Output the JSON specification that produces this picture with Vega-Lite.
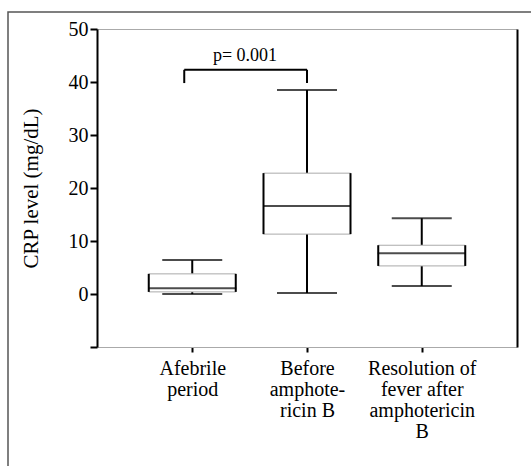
{
  "$schema": "https://vega.github.io/schema/vega-lite/v6.json",
  "width": 525,
  "height": 456,
  "autosize": {"type": "none"},
  "padding": {"left": 8, "top": 12, "right": -2, "bottom": -2},
  "background": "white",
  "config": {
    "view": {"stroke": "#555555", "strokeWidth": 1.5},
    "font": "Liberation Serif",
    "axis": {"grid": false, "labelFont": "Liberation Serif", "titleFont": "Liberation Serif", "labelColor": "black", "titleColor": "black"}
  },
  "datasets": {
    "boxes": [
      {"group": "Afebrile period", "min": 0.0, "q1": 0.4, "median": 1.1, "q3": 3.8, "max": 6.4},
      {"group": "Before amphotericin B", "min": 0.2, "q1": 11.3, "median": 16.6, "q3": 22.8, "max": 38.5},
      {"group": "Resolution of fever after amphotericin B", "min": 1.5, "q1": 5.3, "median": 7.7, "q3": 9.2, "max": 14.3}
    ],
    "bracket": [
      {"from": "Afebrile period", "to": "Before amphotericin B", "top": 42.3, "bottom": 39.8, "label": "p= 0.001", "labelY": 44.0}
    ]
  },
  "resolve": {"axis": {"x": "independent", "y": "independent"}},
  "layer": [
    {
      "data": {"name": "boxes"},
      "mark": {"type": "rule", "color": "black", "strokeWidth": 2},
      "encoding": {
        "x": {"field": "group", "type": "nominal", "sort": null,
          "scale": {"type": "point", "domain": ["Afebrile period", "Before amphotericin B", "Resolution of fever after amphotericin B"], "range": [89, 509], "padding": 0.83},
          "axis": {"orient": "bottom", "offset": -121, "title": null, "domainColor": "#aaaaaa", "domainWidth": 1, "tickColor": "black", "tickWidth": 2, "tickSize": 5, "labelAngle": 0, "labelFontSize": 20, "labelLineHeight": 21, "labelPadding": 6, "labelAlign": "center",
            "labelExpr": "datum.value == 'Afebrile period' ? ['Afebrile', 'period'] : datum.value == 'Before amphotericin B' ? ['Before', 'amphote-', 'ricin B'] : ['Resolution of', 'fever after', 'amphotericin', 'B']"}},
        "y": {"field": "min", "type": "quantitative",
          "scale": {"domain": [-10, 50], "range": [335, 17], "nice": false, "zero": false},
          "axis": {"orient": "left", "offset": -89, "title": "CRP level (mg/dL)", "titleFontSize": 21, "titleFontWeight": "normal", "titlePadding": 27, "values": [-10, 0, 10, 20, 30, 40, 50], "labelExpr": "datum.value < 0 ? '' : datum.label", "labelFontSize": 20, "labelPadding": 2, "domainColor": "black", "domainWidth": 2, "tickColor": "black", "tickWidth": 2, "tickSize": 7}},
        "y2": {"field": "q1"}
      }
    },
    {
      "data": {"name": "boxes"},
      "mark": {"type": "rule", "color": "black", "strokeWidth": 2},
      "encoding": {
        "x": {"field": "group", "type": "nominal", "sort": null, "axis": null,
          "scale": {"type": "point", "domain": ["Afebrile period", "Before amphotericin B", "Resolution of fever after amphotericin B"], "range": [89, 509], "padding": 0.83}},
        "y": {"field": "q3", "type": "quantitative", "axis": null,
          "scale": {"domain": [-10, 50], "range": [335, 17], "nice": false, "zero": false}},
        "y2": {"field": "max"}
      }
    },
    {
      "data": {"name": "boxes"},
      "mark": {"type": "tick", "color": "black", "thickness": 2, "size": 60, "orient": "horizontal"},
      "encoding": {
        "x": {"field": "group", "type": "nominal", "sort": null, "axis": null,
          "scale": {"type": "point", "domain": ["Afebrile period", "Before amphotericin B", "Resolution of fever after amphotericin B"], "range": [89, 509], "padding": 0.83}},
        "y": {"field": "min", "type": "quantitative", "axis": null,
          "scale": {"domain": [-10, 50], "range": [335, 17], "nice": false, "zero": false}}
      }
    },
    {
      "data": {"name": "boxes"},
      "mark": {"type": "tick", "color": "black", "thickness": 2, "size": 60, "orient": "horizontal"},
      "encoding": {
        "x": {"field": "group", "type": "nominal", "sort": null, "axis": null,
          "scale": {"type": "point", "domain": ["Afebrile period", "Before amphotericin B", "Resolution of fever after amphotericin B"], "range": [89, 509], "padding": 0.83}},
        "y": {"field": "max", "type": "quantitative", "axis": null,
          "scale": {"domain": [-10, 50], "range": [335, 17], "nice": false, "zero": false}}
      }
    },
    {
      "data": {"name": "boxes"},
      "mark": {"type": "bar", "size": 87, "fill": "white", "stroke": "#aaaaaa", "strokeWidth": 1},
      "encoding": {
        "x": {"field": "group", "type": "nominal", "sort": null, "axis": null,
          "scale": {"type": "point", "domain": ["Afebrile period", "Before amphotericin B", "Resolution of fever after amphotericin B"], "range": [89, 509], "padding": 0.83}},
        "y": {"field": "q1", "type": "quantitative", "axis": null,
          "scale": {"domain": [-10, 50], "range": [335, 17], "nice": false, "zero": false}},
        "y2": {"field": "q3"}
      }
    },
    {
      "data": {"name": "boxes"},
      "mark": {"type": "rule", "color": "black", "strokeWidth": 2, "xOffset": -43.5},
      "encoding": {
        "x": {"field": "group", "type": "nominal", "sort": null, "axis": null,
          "scale": {"type": "point", "domain": ["Afebrile period", "Before amphotericin B", "Resolution of fever after amphotericin B"], "range": [89, 509], "padding": 0.83}},
        "y": {"field": "q1", "type": "quantitative", "axis": null,
          "scale": {"domain": [-10, 50], "range": [335, 17], "nice": false, "zero": false}},
        "y2": {"field": "q3"}
      }
    },
    {
      "data": {"name": "boxes"},
      "mark": {"type": "rule", "color": "black", "strokeWidth": 2, "xOffset": 43.5},
      "encoding": {
        "x": {"field": "group", "type": "nominal", "sort": null, "axis": null,
          "scale": {"type": "point", "domain": ["Afebrile period", "Before amphotericin B", "Resolution of fever after amphotericin B"], "range": [89, 509], "padding": 0.83}},
        "y": {"field": "q1", "type": "quantitative", "axis": null,
          "scale": {"domain": [-10, 50], "range": [335, 17], "nice": false, "zero": false}},
        "y2": {"field": "q3"}
      }
    },
    {
      "data": {"name": "boxes"},
      "mark": {"type": "tick", "color": "black", "thickness": 2, "size": 88, "orient": "horizontal"},
      "encoding": {
        "x": {"field": "group", "type": "nominal", "sort": null,
          "scale": {"type": "point", "domain": ["Afebrile period", "Before amphotericin B", "Resolution of fever after amphotericin B"], "range": [89, 509], "padding": 0.83},
          "axis": {"orient": "top", "offset": -17, "title": null, "labels": false, "ticks": false, "domainColor": "#aaaaaa", "domainWidth": 1}},
        "y": {"field": "median", "type": "quantitative",
          "scale": {"domain": [-10, 50], "range": [335, 17], "nice": false, "zero": false},
          "axis": {"orient": "right", "offset": -16, "title": null, "labels": false, "ticks": false, "domainColor": "black", "domainWidth": 2}}
      }
    },
    {
      "data": {"name": "bracket"},
      "mark": {"type": "rule", "color": "black", "strokeWidth": 2, "xOffset": -8},
      "encoding": {
        "x": {"field": "from", "type": "nominal", "axis": null,
          "scale": {"type": "point", "domain": ["Afebrile period", "Before amphotericin B", "Resolution of fever after amphotericin B"], "range": [89, 509], "padding": 0.83}},
        "x2": {"field": "to"},
        "y": {"field": "top", "type": "quantitative", "axis": null,
          "scale": {"domain": [-10, 50], "range": [335, 17], "nice": false, "zero": false}}
      }
    },
    {
      "data": {"name": "bracket"},
      "mark": {"type": "rule", "color": "black", "strokeWidth": 2, "xOffset": -8},
      "encoding": {
        "x": {"field": "from", "type": "nominal", "axis": null,
          "scale": {"type": "point", "domain": ["Afebrile period", "Before amphotericin B", "Resolution of fever after amphotericin B"], "range": [89, 509], "padding": 0.83}},
        "y": {"field": "top", "type": "quantitative", "axis": null,
          "scale": {"domain": [-10, 50], "range": [335, 17], "nice": false, "zero": false}},
        "y2": {"field": "bottom"}
      }
    },
    {
      "data": {"name": "bracket"},
      "mark": {"type": "rule", "color": "black", "strokeWidth": 2},
      "encoding": {
        "x": {"field": "to", "type": "nominal", "axis": null,
          "scale": {"type": "point", "domain": ["Afebrile period", "Before amphotericin B", "Resolution of fever after amphotericin B"], "range": [89, 509], "padding": 0.83}},
        "y": {"field": "top", "type": "quantitative", "axis": null,
          "scale": {"domain": [-10, 50], "range": [335, 17], "nice": false, "zero": false}},
        "y2": {"field": "bottom"}
      }
    },
    {
      "data": {"name": "bracket"},
      "mark": {"type": "text", "color": "black", "font": "Liberation Serif", "fontSize": 18, "baseline": "alphabetic", "align": "center", "xOffset": -62},
      "encoding": {
        "x": {"field": "to", "type": "nominal", "axis": null,
          "scale": {"type": "point", "domain": ["Afebrile period", "Before amphotericin B", "Resolution of fever after amphotericin B"], "range": [89, 509], "padding": 0.83}},
        "y": {"field": "labelY", "type": "quantitative", "axis": null,
          "scale": {"domain": [-10, 50], "range": [335, 17], "nice": false, "zero": false}},
        "text": {"field": "label"}
      }
    }
  ]
}
